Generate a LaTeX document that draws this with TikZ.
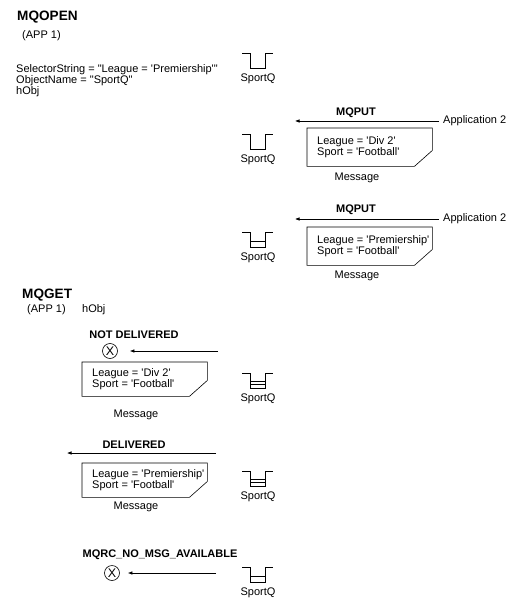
\documentclass[tikz,border=0pt]{standalone}
\usepackage{fontspec}
\setmainfont{Liberation Sans}
\usetikzlibrary{arrows.meta}
\newcommand\sq{\textquotesingle}
\newcommand\dq{\textquotedbl}
% message box: name, x, y(top), height, text
\newcommand\msgbox[5]{%
  \node[boxfr, minimum height=#4pt] (#1) at (#2,#3) {};
  \draw[ln] (#1.north west) -- (#1.north east) -- ([yshift=16pt]#1.south east) -- ([xshift=-18pt]#1.south east) -- (#1.south west) -- cycle;
  \node[txt, anchor=west, align=left] (#1t) at ([xshift=10pt]#1.west) {#5};
}
\newcommand\queueicon[4]{%
  \draw[ln] (#2,#3-15) -- (#2+8,#3-15) -- (#2+8,#3) -- (#2+23,#3) -- (#2+23,#3-15) -- (#2+31,#3-15);
  \ifcase#4\relax
  \or \draw[ln] (#2+8,#3-6) -- (#2+23,#3-6);
  \or \draw[ln] (#2+8,#3-3.5) -- (#2+23,#3-3.5); \draw[ln] (#2+8,#3-7) -- (#2+23,#3-7);
  \fi
  \node[txt] (#1) at (#2+16,#3+11) {SportQ};
}
\begin{document}
\begin{tikzpicture}[x=1pt,y=-1pt,
  txt/.style={font=\fontsize{11}{11.3}\selectfont, inner sep=0pt},
  ttl/.style={font=\fontsize{13.6}{15}\selectfont\bfseries, inner sep=0pt},
  lbl/.style={font=\fontsize{11}{12}\selectfont\bfseries, inner sep=0pt},
  boxfr/.style={minimum width=125pt, inner sep=0pt, anchor=north west},
  arr/.style={-{Latex[length=4.5pt,width=3.5pt]}, line width=0.6pt},
  xc/.style={circle, draw, line width=0.6pt, minimum size=15pt, inner sep=0pt, font=\fontsize{12.5}{12}\selectfont},
  ln/.style={line width=0.6pt}
]
\useasboundingbox (0,0) rectangle (525,609);

% MQOPEN
\node[ttl, anchor=west] (mqopen) at (17,17) {MQOPEN};
\node[txt, anchor=west] (app1a) at (22,36) {(APP 1)};
\node[txt, anchor=west, align=left] (sel) at (16,80.5) {SelectorString = \dq League = \sq Premiership\sq\dq\\ObjectName = \dq SportQ\dq\\hObj};
\queueicon{q1}{242}{68}{0}

% MQPUT 1
\node[lbl] (put1) at (356,113) {MQPUT};
\node[txt, anchor=west, inner xsep=4pt] (app2a) at (439,121) {Application 2};
\coordinate (put1end) at (295,121);
\draw[arr] (app2a.west) -- (put1end);
\msgbox{m1}{307}{128}{38}{League = \sq Div 2\sq\\Sport = \sq Football\sq}
\node[txt] (msg1) at (357,178) {Message};
\queueicon{q2}{242}{149}{0}

% MQPUT 2
\node[lbl] (put2) at (356,210) {MQPUT};
\node[txt, anchor=west, inner xsep=4pt] (app2b) at (439,219) {Application 2};
\coordinate (put2end) at (295,219);
\draw[arr] (app2b.west) -- (put2end);
\msgbox{m2}{307}{227}{38}{League = \sq Premiership\sq\\Sport = \sq Football\sq}
\node[txt] (msg2) at (357,276) {Message};
\queueicon{q3}{242}{247}{1}

% MQGET
\node[ttl, anchor=west] (mqget) at (22,295) {MQGET};
\node[txt, anchor=west] (app1b) at (27,310) {(APP 1)};
\node[txt, anchor=west] (hobj) at (82,310) {hObj};

\node[lbl] (nd) at (134,335) {NOT DELIVERED};
\node[xc] (x1) at (110,351) {X};
\coordinate (nd0) at (218,351);
\draw[arr] (nd0) -- ([xshift=12pt]x1.east);
\msgbox{m3}{82}{362}{34}{League = \sq Div 2\sq\\Sport = \sq Football\sq}
\node[txt] (msg3) at (136,415) {Message};
\queueicon{q4}{242}{388}{2}

\node[lbl] (dl) at (134,445) {DELIVERED};
\coordinate (d0) at (216,453);
\coordinate (d1) at (67,453);
\draw[arr] (d0) -- (d1);
\msgbox{m4}{82}{463}{34}{League = \sq Premiership\sq\\Sport = \sq Football\sq}
\node[txt] (msg4) at (136,507) {Message};
\queueicon{q5}{242}{486}{2}

\node[lbl] (rc) at (160,555) {MQRC\_NO\_MSG\_AVAILABLE};
\node[xc] (x2) at (112,573) {X};
\coordinate (rc0) at (216,573);
\draw[arr] (rc0) -- ([xshift=8pt]x2.east);
\queueicon{q6}{242}{582}{1}
\end{tikzpicture}
\end{document}
